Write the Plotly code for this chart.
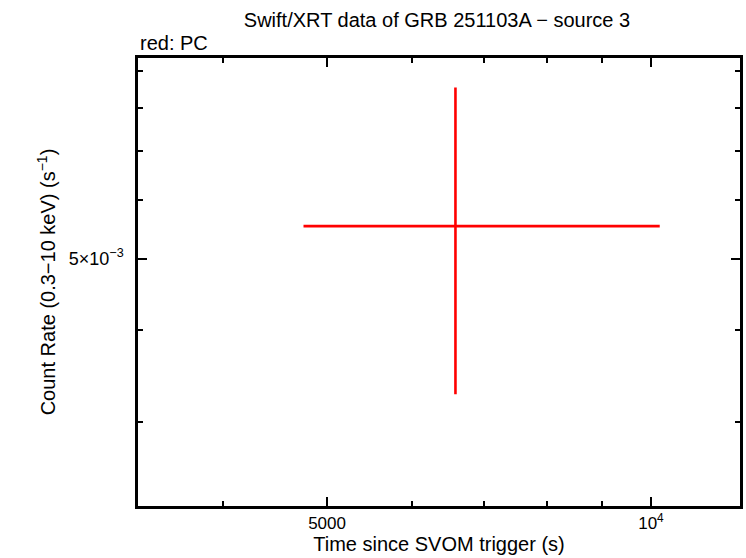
import math
import plotly.graph_objects as go

# Data
time_s = [6581]
time_err_minus = [6581 - 4754]
time_err_plus = [10190 - 6581]
rate = [5.535e-3]
rate_err_plus = [8.54e-3 - 5.535e-3]
rate_err_minus = [5.535e-3 - 3.27e-3]

x_major = [5000, 10000]
x_major_text = ["5000", "10<sup>4</sup>"]
x_minor = [4000, 6000, 7000, 8000, 9000]
y_major = [5e-3]
y_major_text = ["5×10<sup>−3</sup>"]
y_minor = [3e-3, 4e-3, 6e-3, 7e-3, 8e-3, 9e-3]

x_range = [3336, 12100]
y_range = [2.304e-3, 9.37e-3]

font_family = "Liberation Sans, Arial, Helvetica, sans-serif"

fig = go.Figure()
fig.add_trace(go.Scatter(
    x=time_s, y=rate, mode="markers",
    marker=dict(size=1, color="#ff0000", opacity=0),
    error_x=dict(type="data", symmetric=False, array=time_err_plus,
                 arrayminus=time_err_minus, color="#ff0000", thickness=2.6, width=0),
    error_y=dict(type="data", symmetric=False, array=rate_err_plus,
                 arrayminus=rate_err_minus, color="#ff0000", thickness=2.6, width=0),
    showlegend=False,
    hoverinfo="skip",
))

axis_common = dict(
    showline=True, linecolor="black", linewidth=2.5, mirror="allticks",
    ticks="inside", ticklen=9, tickwidth=2, tickcolor="black",
    showgrid=False, zeroline=False, automargin=False,
)

fig.update_xaxes(
    type="log", range=[math.log10(v) for v in x_range],
    tickmode="array", tickvals=x_major, ticktext=x_major_text,
    tickfont=dict(family=font_family, size=17, color="black"),
    minor=dict(tickmode="array", tickvals=x_minor, ticks="inside", ticklen=5,
               tickwidth=2, tickcolor="black", showgrid=False),
    title=dict(text="Time since SVOM trigger (s)", standoff=4,
               font=dict(family=font_family, size=20, color="black")),
    **axis_common,
)
fig.update_yaxes(
    type="log", range=[math.log10(v) for v in y_range],
    tickmode="array", tickvals=y_major, ticktext=y_major_text,
    tickfont=dict(family=font_family, size=18, color="black"),
    ticklabelstandoff=8,
    minor=dict(tickmode="array", tickvals=y_minor, ticks="inside", ticklen=5,
               tickwidth=2, tickcolor="black", showgrid=False),
    title=dict(text="Count Rate (0.3−10 keV) (s<sup>−1</sup>)", standoff=8,
               font=dict(family=font_family, size=20, color="black")),
    **axis_common,
)

fig.update_layout(
    width=746, height=558,
    margin=dict(l=138, r=6, t=58, b=52),
    paper_bgcolor="white", plot_bgcolor="white",
    title=dict(text="Swift/XRT data of GRB 251103A − source 3",
               x=437 / 746, xanchor="center", y=1 - 20 / 558, yanchor="middle",
               font=dict(family=font_family, size=20, color="black")),
    annotations=[dict(text="red: PC", xref="paper", yref="paper",
                      x=0, y=1, xanchor="left", yanchor="bottom", yshift=2,
                      showarrow=False,
                      font=dict(family=font_family, size=20, color="black"))],
)

fig.write_html("out.html", config={"displayModeBar": False},
               post_script="document.body.style.margin='0px';")
